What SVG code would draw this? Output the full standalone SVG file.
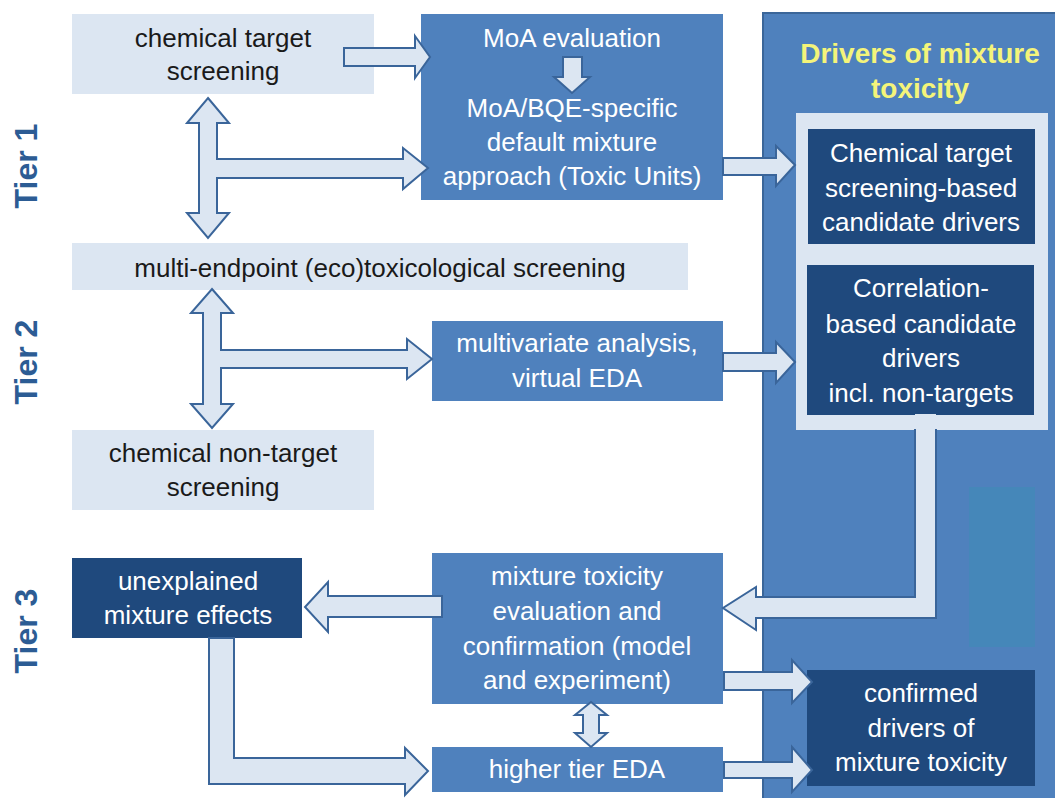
<svg xmlns="http://www.w3.org/2000/svg" width="1055" height="798" viewBox="0 0 1055 798">
<style>
.light{fill:#dce6f2}
.mid{fill:#4f81bd}
.dark{fill:#1f497d}
.t{font-family:"Liberation Sans",Arial,sans-serif;font-size:26px;text-anchor:middle}
.tb{fill:#1a1a1a}
.tw{fill:#ffffff}
.tier{font-family:"Liberation Sans",Arial,sans-serif;font-size:32px;font-weight:bold;fill:#2c5c94;text-anchor:middle}
.title{font-family:"Liberation Sans",Arial,sans-serif;font-size:28px;font-weight:bold;fill:#f4f47a;text-anchor:middle}
.arr{fill:#dce6f2;stroke:#3a659a;stroke-width:2;stroke-linejoin:miter}
</style>
<rect width="1055" height="798" fill="#ffffff"/>

<g id="tiers">
<text class="tier" transform="translate(37,166) rotate(-90)">Tier 1</text>
<text class="tier" transform="translate(37,362) rotate(-90)">Tier 2</text>
<text class="tier" transform="translate(37,631) rotate(-90)">Tier 3</text>
</g>

<g id="drivers-panel">
<rect x="763" y="13" width="300" height="795" fill="#4f81bd" stroke="#3b6699" stroke-width="2"/>
<rect x="969" y="487" width="66" height="160" fill="#4587b9"/>
<text class="title" x="920" y="63">Drivers of mixture</text>
<text class="title" x="920" y="98">toxicity</text>
<rect x="796" y="113" width="252" height="317" class="light"/>
</g>

<g id="chem-target-screening">
<rect x="72" y="14" width="302" height="80" class="light"/>
<text class="t tb" x="223" y="47">chemical target</text>
<text class="t tb" x="223" y="80">screening</text>
</g>

<g id="moa">
<rect x="421" y="14" width="302" height="186" class="mid"/>
<text class="t tw" x="572" y="47">MoA evaluation</text>
<text class="t tw" x="572" y="117">MoA/BQE-specific</text>
<text class="t tw" x="572" y="151">default mixture</text>
<text class="t tw" x="572" y="185">approach (Toxic Units)</text>
</g>

<g id="multi-endpoint">
<rect x="72" y="243" width="616" height="47" class="light"/>
<text class="t tb" x="380" y="277">multi-endpoint (eco)toxicological screening</text>
</g>

<g id="multivariate">
<rect x="432" y="321" width="291" height="80" class="mid"/>
<text class="t tw" x="577" y="352">multivariate analysis,</text>
<text class="t tw" x="577" y="387">virtual EDA</text>
</g>

<g id="chem-nontarget">
<rect x="72" y="430" width="302" height="80" class="light"/>
<text class="t tb" x="223" y="462">chemical non-target</text>
<text class="t tb" x="223" y="496">screening</text>
</g>

<g id="target-based-drivers">
<rect x="808" y="129" width="227" height="115" class="dark"/>
<text class="t tw" x="921" y="162">Chemical target</text>
<text class="t tw" x="921" y="197">screening-based</text>
<text class="t tw" x="921" y="231">candidate drivers</text>
</g>

<g id="correlation-drivers">
<rect x="807" y="265" width="227" height="150" class="dark"/>
<text class="t tw" x="921" y="297">Correlation-</text>
<text class="t tw" x="921" y="333">based candidate</text>
<text class="t tw" x="921" y="367">drivers</text>
<text class="t tw" x="921" y="402">incl. non-targets</text>
</g>

<g id="unexplained">
<rect x="72" y="558" width="230" height="80" class="dark"/>
<text class="t tw" x="188" y="590">unexplained</text>
<text class="t tw" x="188" y="624">mixture effects</text>
</g>

<g id="mixture-eval">
<rect x="432" y="553" width="291" height="151" class="mid"/>
<text class="t tw" x="577" y="585">mixture toxicity</text>
<text class="t tw" x="577" y="620">evaluation and</text>
<text class="t tw" x="577" y="655">confirmation (model</text>
<text class="t tw" x="577" y="689">and experiment)</text>
</g>

<g id="higher-tier">
<rect x="432" y="747" width="291" height="45" class="mid"/>
<text class="t tw" x="577" y="778">higher tier EDA</text>
</g>

<g id="confirmed">
<rect x="807" y="670" width="228" height="116" class="dark"/>
<text class="t tw" x="921" y="702">confirmed</text>
<text class="t tw" x="921" y="737">drivers of</text>
<text class="t tw" x="921" y="771">mixture toxicity</text>
</g>

<g id="connectors">
<path class="arr" d="M344,48 H415 V36 L430,57 L415,78 V66 H344 Z"/>
<path class="arr" d="M208,98 L229,123 H217 V159 H403 V148 L428,168 L403,189 V178 H217 V213 H229 L208,238 L187,213 H199 V123 H187 Z"/>
<path class="arr" d="M212,289 L233,313 H221 V350 H407 V339 L432,359 L407,379 V368 H221 V404 H233 L212,428 L191,404 H203 V313 H191 Z"/>
<path class="arr" d="M563,57 H582 V77 H590 L572,93 L554,77 H563 Z"/>
<path class="arr" d="M723,158 H776 V146 L795,165 L776,186 V175 H723 Z"/>
<path class="arr" d="M723,353 H776 V342 L795,362 L776,383 V371 H723 Z"/>
<path d="M915,414 V597 H756 V587 L723,608 L756,630 V618 H936 V414 Z" fill="#dce6f2"/>
<path d="M915,429 V597 H756 V587 L723,608 L756,630 V618 H936 V429" fill="none" stroke="#3a659a" stroke-width="2"/>
<path class="arr" d="M442,596 H328 V582 L305,607 L328,632 V617 H442 Z"/>
<path class="arr" d="M209,638 V784 H405 V795 L428,771 L405,748 V758 H234 V638 Z"/>
<path class="arr" d="M591,702 L607,715 H599 V733 H607 L591,747 L575,733 H583 V715 H575 Z"/>
<path class="arr" d="M724,672 H792 V660 L812,682 L792,703 V690 H724 Z"/>
<path class="arr" d="M724,762 H792 V747 L812,770 L792,792 V778 H724 Z"/>
</g>
</svg>
